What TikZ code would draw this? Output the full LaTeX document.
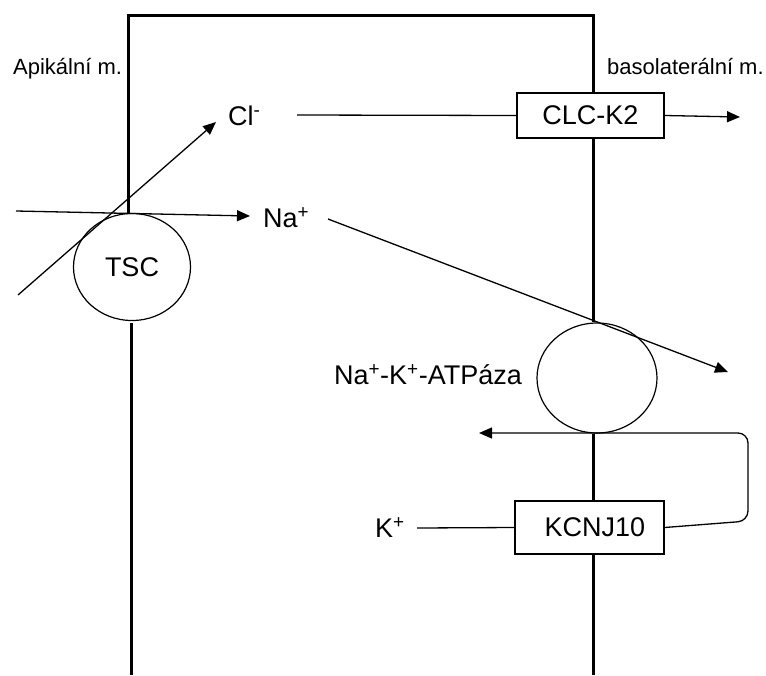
\documentclass[tikz,border=0pt]{standalone}
\usepackage{fontspec}
\setmainfont{Liberation Sans}
\usetikzlibrary{arrows.meta,shapes.geometric,calc}
\begin{document}
\begin{tikzpicture}[x=1pt,y=-1pt,
  cell/.style={line width=3pt},
  thinline/.style={line width=1.3pt},
  arr/.style={thinline,-{Triangle[length=13pt,width=11pt]}},
  big/.style={font=\fontsize{27}{31}\selectfont, inner sep=0pt},
  lab/.style={font=\fontsize{22}{26}\selectfont, inner sep=0pt},
  membrane/.style={draw, line width=1.2pt, ellipse, inner sep=0pt},
  box/.style={draw, line width=1.3pt, rectangle, inner sep=0pt},
]
\useasboundingbox (0,0) rectangle (766,675);

% transporters
\node[membrane, big, minimum width=117pt, minimum height=107pt] (tsc) at (132,267) {TSC};
\node[membrane, minimum width=120pt, minimum height=110pt] (atp) at (597,378) {};
\node[box, big, minimum width=147pt, minimum height=45pt] (clc) at (590.5,115.5) {CLC-K2};
\node[box, big, minimum width=149pt, minimum height=53pt] (kcnj) at (589.5,527.5) {\hspace*{11pt}KCNJ10};

% labels
\node[lab, anchor=west] (apik) at (13,69) {Apikální m.};
\node[lab, anchor=west] (baso) at (607,67) {basolaterální m.};
\node[big, anchor=west] (cl) at (228,116) {Cl\textsuperscript{-}};
\node[big, anchor=west] (na) at (263,218) {Na\textsuperscript{+}};
\node[big, anchor=east] (natp) at (522,375) {Na\textsuperscript{+}-K\textsuperscript{+}-ATPáza};
\node[big, anchor=west] (kp) at (375,528) {K\textsuperscript{+}};

% cell outline
\coordinate (tl) at (128,15);
\coordinate (tr) at (593,15);
\coordinate (bl) at (131,675);
\coordinate (bltop) at (131,323);
\coordinate (br) at (593,675);
\draw[cell] (tl |- tsc.north) -- (tl) -- (tr) -- (tr |- clc.north);
\draw[cell] (tr |- clc.south) -- (tr |- atp.north);
\draw[cell] (tr |- atp.south) -- (tr |- kcnj.north);
\draw[cell] (tr |- kcnj.south) -- (br);
\draw[cell] (bltop) -- (bl);

% fluxes
\coordinate (nain) at (16,211);
\coordinate (clin) at (18,295);
\coordinate (clout) at (740,117);
\coordinate (nab) at (728,372);
\coordinate (kr1) at (748,521);
\coordinate (kr2) at (748,433);
\coordinate (kend) at (479,433);
\draw[arr] (nain) -- ($(na.west)+(-13,-2)$);
\draw[arr] (clin) -- ($(cl.west)+(-12,6)$);
\draw[thinline] ($(cl.west)+(69,-1)$) -- (clc.west);
\draw[arr] (clc.east) -- (clout);
\draw[arr] ($(na.west)+(65,1)$) -- (nab);
\draw[thinline] ($(kp.west)+(42,0)$) -- (kcnj.west);
\draw[arr, rounded corners=10pt] (kcnj.east) -- (kr1) -- (kr2) -- (kend);
\end{tikzpicture}
\end{document}
